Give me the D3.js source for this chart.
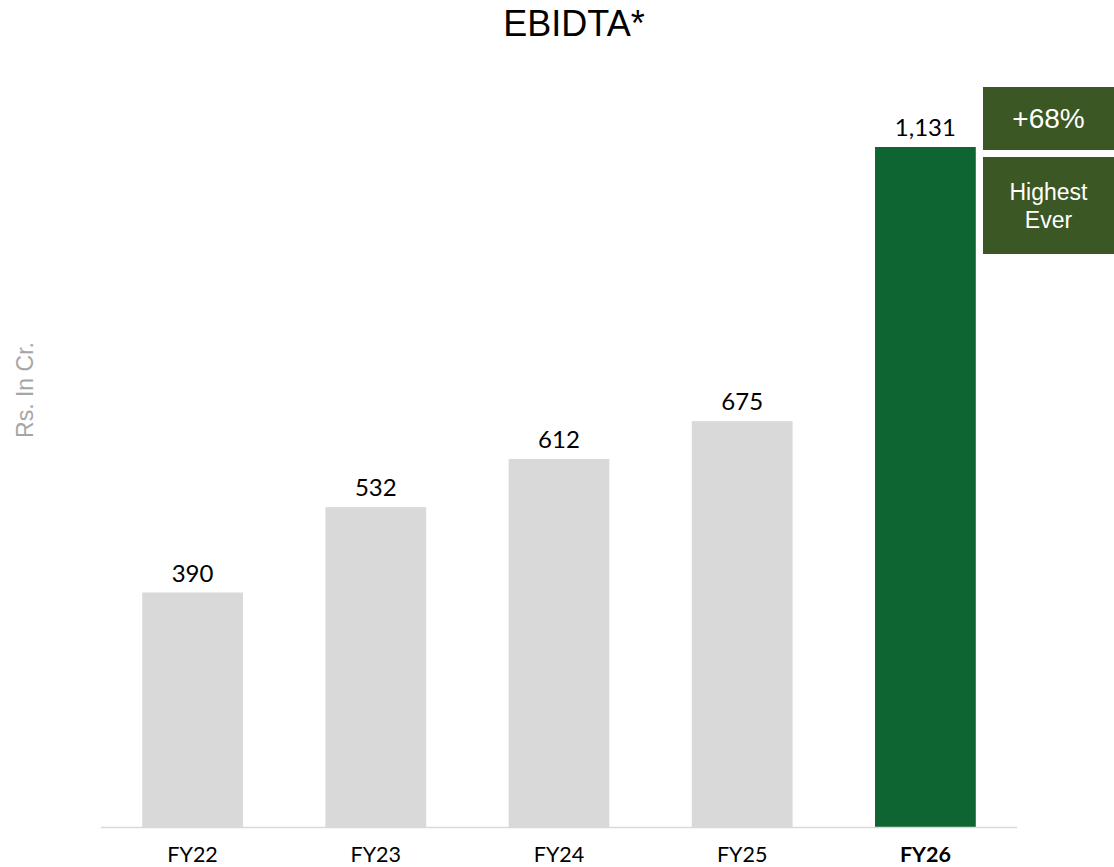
<!DOCTYPE html>
<html>
<head>
<meta charset="utf-8">
<script src="https://cdn.jsdelivr.net/npm/d3@7"></script>
<style>
  body { margin: 0; background: #fff; }
  svg { display: block; }
</style>
</head>
<body>
<div id="chart"></div>
<script>
// data
var years = ["FY22", "FY23", "FY24", "FY25", "FY26"];
var ebidta = [390, 532, 612, 675, 1131];
var valueLabels = ["390", "532", "612", "675", "1,131"];
var highlightYear = "FY26";
var callouts = [["+68%"], ["Highest", "Ever"]];

var width = 1114, height = 867;
var baseY = 827;

var svg = d3.select("#chart").append("svg")
  .attr("width", width)
  .attr("height", height);

var x = d3.scaleBand()
  .domain(years)
  .range([101, 1017])
  .paddingInner(0.45)
  .paddingOuter(0.225);

var y = d3.scaleLinear()
  .domain([0, 1131])
  .range([baseY, 147]);

// title
svg.append("text")
  .attr("x", 574)
  .attr("y", 36)
  .attr("text-anchor", "middle")
  .style("font-family", "'Liberation Sans', Arial, sans-serif")
  .style("font-size", "36px")
  .style("fill", "#000")
  .text("EBIDTA*");

// y axis label
svg.append("text")
  .attr("transform", "translate(33,390) rotate(-90)")
  .attr("text-anchor", "middle")
  .style("font-family", "'Liberation Sans', Arial, sans-serif")
  .style("font-size", "23px")
  .style("fill", "#a6a6a6")
  .text("Rs. In Cr.");

// bars
svg.selectAll(".bar")
  .data(years)
  .enter()
  .append("rect")
  .attr("class", "bar")
  .attr("x", function (d) { return x(d); })
  .attr("width", x.bandwidth())
  .attr("y", function (d, i) { return y(ebidta[i]); })
  .attr("height", function (d, i) { return baseY - y(ebidta[i]); })
  .style("fill", function (d) { return d === highlightYear ? "#0e6531" : "#d9d9d9"; });

// value labels
svg.selectAll(".val")
  .data(years)
  .enter()
  .append("text")
  .attr("class", "val")
  .attr("x", function (d) { return x(d) + x.bandwidth() / 2; })
  .attr("y", function (d, i) { return y(ebidta[i]) - 11; })
  .attr("text-anchor", "middle")
  .style("font-family", "Lato, 'Open Sans', sans-serif")
  .style("font-size", "24px")
  .style("fill", "#000")
  .text(function (d, i) { return valueLabels[i]; });

// baseline
svg.append("line")
  .attr("x1", 101).attr("x2", 1017)
  .attr("y1", baseY + 0.5).attr("y2", baseY + 0.5)
  .style("stroke", "#d9d9d9")
  .style("stroke-width", 1.5);

// category labels
svg.selectAll(".cat")
  .data(years)
  .enter()
  .append("text")
  .attr("class", "cat")
  .attr("x", function (d) { return x(d) + x.bandwidth() / 2; })
  .attr("y", 862)
  .attr("text-anchor", "middle")
  .style("font-family", "Lato, 'Open Sans', sans-serif")
  .style("font-size", "21.5px")
  .style("font-weight", function (d) { return d === highlightYear ? "bold" : "normal"; })
  .style("fill", "#000")
  .text(function (d) { return d; });

// callout boxes next to the highlighted bar
var boxes = [
  { y0: 87, y1: 150, size: 28 },
  { y0: 157, y1: 254, size: 23 }
];
var boxX = 983, boxW = 131;
boxes.forEach(function (b, i) {
  svg.append("rect")
    .attr("x", boxX).attr("y", b.y0)
    .attr("width", boxW).attr("height", b.y1 - b.y0)
    .style("fill", "#3b5723");
  var lines = callouts[i];
  var lh = 28;
  var cy = (b.y0 + b.y1) / 2;
  lines.forEach(function (t, j) {
    svg.append("text")
      .attr("x", boxX + boxW / 2)
      .attr("y", cy + (j - (lines.length - 1) / 2) * lh)
      .attr("dy", "0.35em")
      .attr("text-anchor", "middle")
      .style("font-family", "'Liberation Sans', Arial, sans-serif")
      .style("font-size", b.size + "px")
      .style("fill", "#fff")
      .text(t);
  });
});
</script>
</body>
</html>
